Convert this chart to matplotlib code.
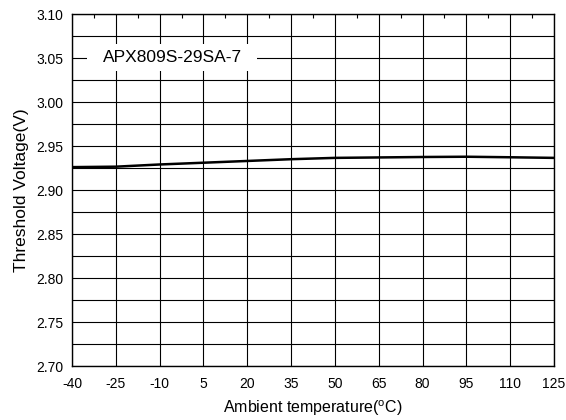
import matplotlib
matplotlib.use("Agg")
import matplotlib.pyplot as plt
from matplotlib.patches import Rectangle
import numpy as np

plt.rcParams["font.family"] = ["Liberation Sans", "DejaVu Sans"]
plt.rcParams["mathtext.fontset"] = "custom"
plt.rcParams["mathtext.rm"] = "Liberation Sans"
plt.rcParams["axes.unicode_minus"] = False

temperature = [-40, -25, -10, 5, 20, 35, 50, 65, 80, 95, 110, 125]
threshold_v = [2.926, 2.9265, 2.929, 2.931, 2.933, 2.935, 2.9365, 2.937,
               2.9375, 2.9378, 2.9372, 2.9365]
x_ticks = [-40, -25, -10, 5, 20, 35, 50, 65, 80, 95, 110, 125]
y_ticks = [2.70, 2.75, 2.80, 2.85, 2.90, 2.95, 3.00, 3.05, 3.10]
part_name = "APX809S-29SA-7"

fig = plt.figure(figsize=(5.66, 4.2), dpi=100)
ax = fig.add_axes([72 / 566, 1 - 366 / 420, 482 / 566, 352 / 420])

ax.plot(temperature, threshold_v, color="black", linewidth=1.8, zorder=3)

ax.set_xlim(-40, 125)
ax.set_ylim(2.70, 3.10)
ax.set_xticks(x_ticks)
ax.set_xticks(np.arange(-32.5, 125, 15), minor=True)
ax.set_yticks(y_ticks)
ax.set_yticklabels([f"{v:.2f}" for v in y_ticks])
ax.set_yticks(np.arange(2.725, 3.10, 0.05), minor=True)
ax.xaxis.grid(True, which="major", color="black", linewidth=0.8)
ax.yaxis.grid(True, which="both", color="black", linewidth=0.8)
ax.tick_params(which="major", length=0, labelsize=10)
ax.tick_params(axis="y", which="minor", length=0)
ax.tick_params(axis="x", which="minor", bottom=False, top=True,
               direction="in", length=3, width=0.8)
ax.tick_params(axis="x", pad=8)
ax.tick_params(axis="y", pad=6.5)
for s in ax.spines.values():
    s.set_linewidth(1.0)

# white label box over the grid
ax.add_patch(Rectangle((-34.9, 3.0352), 58.2, 0.0307, facecolor="white",
                       edgecolor="none", zorder=4))
ax.text(-29.4, 3.0505, part_name, fontsize=12.5, va="center", ha="left",
        zorder=5)

ax.set_xlabel(r"Ambient temperature($^{\rm o}$C)", fontsize=11.5, labelpad=5)
ax.set_ylabel("Threshold Voltage(V)", fontsize=12.5, labelpad=5)

fig.savefig("out.png", dpi=100)
